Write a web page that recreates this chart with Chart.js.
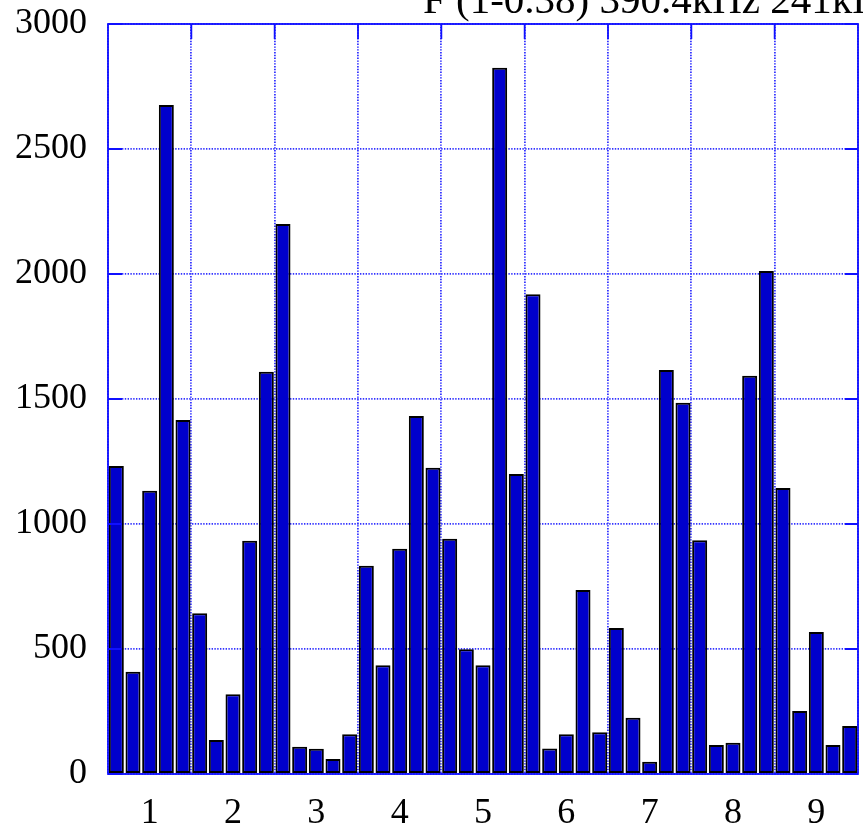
<!DOCTYPE html>
<html><head><meta charset="utf-8">
<script src="https://cdn.jsdelivr.net/npm/chart.js@4/dist/chart.umd.min.js"></script>
<style>
html,body{margin:0;padding:0;background:#fff;overflow:hidden;width:863px;height:833px}
#wrap{position:relative;width:863px;height:833px;overflow:hidden}
#title{position:absolute;left:423px;top:-21px;font-family:"Liberation Serif";font-size:41px;line-height:41px;white-space:nowrap;color:#000}
canvas{display:block}
</style></head><body>
<div id="wrap"><canvas id="c" width="863" height="833"></canvas><div id="title">F (1-0.38) 390.4kHz 241kHz</div></div>
<script>
const categories = ['1','2','3','4','5','6','7','8','9'];
const bar1 = [1232, 643, 2200, 833, 941, 1919, 584, 935, 1144];
const bar2 = [409, 136, 109, 435, 499, 102, 225, 116, 252];
const bar3 = [1133, 319, 101, 901, 435, 159, 49, 125, 568];
const bar4 = [2676, 933, 60, 1432, 2825, 736, 1616, 1593, 116];
const bar5 = [1416, 1609, 159, 1225, 1200, 167, 1485, 2012, 192];
const yTicks = [0, 500, 1000, 1500, 2000, 2500, 3000];

const BLUE_FRAME = '#1010ff';
const GRID = 'rgba(30,30,255,0.9)';
const FONT = {family: 'Liberation Serif', size: 36};

const framePlugin = {
  id: 'frame',
  afterDatasetsDraw(chart) {
    const {ctx, chartArea: a, scales: {x, y}} = chart;
    ctx.save();
    ctx.strokeStyle = BLUE_FRAME;
    ctx.lineWidth = 1.8;
    ctx.strokeRect(a.left, a.top, a.right - a.left, a.bottom - a.top);
    ctx.beginPath();
    yTicks.forEach(v => {
      const py = y.getPixelForValue(v);
      ctx.moveTo(a.left, py); ctx.lineTo(a.left + 14, py);
      ctx.moveTo(a.right, py); ctx.lineTo(a.right - 13, py);
    });
    for (let i = 1; i < categories.length; i++) {
      const px = (x.getPixelForValue(i - 1) + x.getPixelForValue(i)) / 2;
      ctx.moveTo(px, a.top); ctx.lineTo(px, a.top + 15);
    }
    ctx.stroke();
    ctx.restore();
  }
};

const series = [bar1, bar2, bar3, bar4, bar5];
const datasets = series.map((d, i) => ({
  label: 'bar' + (i + 1),
  data: d,
  backgroundColor: '#0000cc',
  borderColor: '#000000',
  borderWidth: 2,
  borderSkipped: false,
  categoryPercentage: 1.0,
  barPercentage: 0.9
}));

new Chart(document.getElementById('c'), {
  type: 'bar',
  data: {labels: categories, datasets},
  options: {
    responsive: false,
    animation: false,
    layout: {padding: {top: 24, right: 5, left: 0, bottom: 0}},
    plugins: {legend: {display: false}, tooltip: {enabled: false}},
    scales: {
      x: {
        type: 'category',
        offset: true,
        grid: {offset: true, color: GRID, lineWidth: 1.8, drawTicks: false},
        border: {display: false, dash: [1.4, 1.4]},
        ticks: {font: FONT, color: '#000', padding: 18, maxRotation: 0, autoSkip: false},
        afterFit: s => { s.height = 59; s.paddingLeft = 0; s.paddingRight = 0; }
      },
      y: {
        min: 0, max: 3000,
        grid: {color: GRID, lineWidth: 1.8, drawTicks: false},
        border: {display: false, dash: [1.4, 1.4]},
        ticks: {stepSize: 500, font: FONT, color: '#000', padding: 21, callback: v => String(v)},
        afterBuildTicks: s => { s.ticks = yTicks.map(v => ({value: v})); },
        afterFit: s => { s.width = 108; s.paddingTop = 0; s.paddingBottom = 0; }
      }
    }
  },
  plugins: [framePlugin]
});
</script>
</body></html>
